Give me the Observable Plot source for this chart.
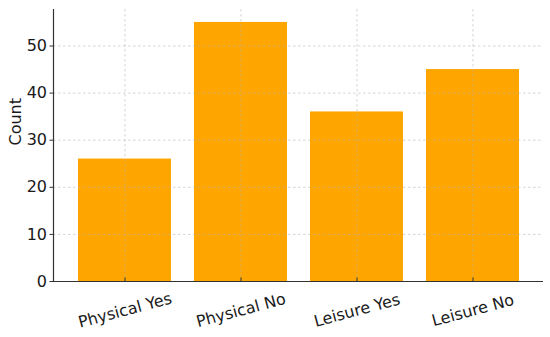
<!DOCTYPE html>
<html>
<head>
<meta charset="utf-8">
<script src="https://cdn.jsdelivr.net/npm/d3@7"></script>
<script src="https://cdn.jsdelivr.net/npm/@observablehq/plot@0.6"></script>
<style>
  html, body { margin: 0; padding: 0; background: #fff; }
  #chart svg { display: block; }
</style>
</head>
<body>
<div id="chart"></div>
<script>
const categories = ["Physical Yes", "Physical No", "Leisure Yes", "Leisure No"];
const counts = [26, 55, 36, 45];
const yTicks = [0, 10, 20, 30, 40, 50];
const yLabel = "Count";

const data = categories.map((c, i) => ({category: c, count: counts[i]}));
const FS = 16;

const chart = Plot.plot({
  width: 550,
  height: 337,
  marginLeft: 53,
  marginRight: 7,
  marginTop: 9,
  marginBottom: 56,
  style: {fontFamily: "DejaVu Sans, sans-serif", fontSize: FS + "px", color: "#1a1a1a", background: "#fff"},
  x: {domain: categories, padding: 0.2, axis: null},
  y: {domain: [0, 57.75], axis: null},
  marks: [
    Plot.barY(data, {x: "category", y: "count", fill: "#FFA500"}),
    Plot.gridY(yTicks, {stroke: "#b0b0b0", strokeOpacity: 0.6, strokeDasharray: "2.5,2.5", strokeWidth: 0.9}),
    Plot.gridX(categories, {stroke: "#b0b0b0", strokeOpacity: 0.6, strokeDasharray: "2.5,2.5", strokeWidth: 0.9}),
    Plot.axisY(yTicks, {tickSize: 3.5, tickPadding: 3, label: null, fill: "#1a1a1a", stroke: "#333", fontSize: FS}),
    Plot.text([yLabel], {frameAnchor: "left", dx: -38, rotate: -90, fontSize: FS, fill: "#1a1a1a"}),
    Plot.ruleX(categories, {x: d => d, y1: 0, y2: 0.75, stroke: "#333", strokeWidth: 1}),
    Plot.text(categories, {x: d => d, frameAnchor: "bottom", dy: 29, rotate: -15, textAnchor: "middle", lineAnchor: "middle", fontSize: FS, fill: "#1a1a1a"}),
    Plot.ruleY([0], {stroke: "#333", strokeWidth: 1.2}),
    Plot.frame({anchor: "left", stroke: "#333", strokeWidth: 1.2})
  ]
});

document.getElementById("chart").appendChild(chart);
</script>
</body>
</html>
